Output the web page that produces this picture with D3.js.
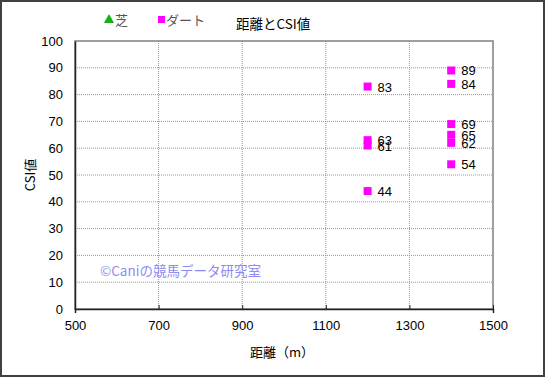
<!DOCTYPE html>
<html>
<head>
<meta charset="utf-8">
<script src="https://cdn.jsdelivr.net/npm/d3@7"></script>
<style>
  body { margin: 0; background: #fff; }
  text { font-family: "Liberation Sans", Arial, "Noto Sans CJK JP", sans-serif; }
</style>
</head>
<body>
<script>
// data
const dirtDist = [1200, 1200, 1200, 1200, 1400, 1400, 1400, 1400, 1400, 1400];
const dirtCsi  = [83, 63, 61, 44, 89, 84, 69, 65, 62, 54];
const turfDist = [];
const turfCsi  = [];
const xTicks = [500, 700, 900, 1100, 1300, 1500];
const yTicks = [0, 10, 20, 30, 40, 50, 60, 70, 80, 90, 100];

const W = 545, H = 377;
const plot = { left: 75, right: 493, top: 41, bottom: 309 };

const svg = d3.select("body").append("svg")
  .attr("width", W).attr("height", H);

// outer frame
svg.append("rect")
  .attr("x", 1).attr("y", 1).attr("width", W - 2).attr("height", H - 2)
  .attr("fill", "#fff").attr("stroke", "#404040").attr("stroke-width", 2);

const x = d3.scaleLinear().domain([500, 1500]).range([plot.left, plot.right]);
const y = d3.scaleLinear().domain([0, 100]).range([plot.bottom, plot.top]);

// grid
svg.append("g").selectAll("line")
  .data(xTicks.slice(1, -1))
  .join("line")
  .attr("x1", d => x(d)).attr("x2", d => x(d))
  .attr("y1", plot.top).attr("y2", plot.bottom)
  .attr("stroke", "#999").attr("stroke-dasharray", "1,1");

svg.append("g").selectAll("line")
  .data(yTicks.slice(1, -1))
  .join("line")
  .attr("x1", plot.left).attr("x2", plot.right)
  .attr("y1", d => y(d)).attr("y2", d => y(d))
  .attr("stroke", "#999").attr("stroke-dasharray", "1,1");

// plot border
svg.append("rect")
  .attr("x", plot.left).attr("y", plot.top)
  .attr("width", plot.right - plot.left).attr("height", plot.bottom - plot.top)
  .attr("fill", "none").attr("stroke", "#808080").attr("stroke-width", 1.5);

// axes
const xAxis = svg.append("g")
  .attr("transform", `translate(0,${plot.bottom})`)
  .call(d3.axisBottom(x).tickValues(xTicks).tickSize(4).tickPadding(8).tickFormat(d3.format("d")));
const yAxis = svg.append("g")
  .attr("transform", `translate(${plot.left},0)`)
  .call(d3.axisLeft(y).tickValues(yTicks).tickSize(0).tickPadding(12));
[xAxis, yAxis].forEach(a => {
  a.select(".domain").attr("stroke", "#222").attr("stroke-width", 1.5);
  a.selectAll(".tick line").attr("stroke", "#222");
  a.selectAll("text").attr("font-size", 13).attr("fill", "#000")
    .style("font-family", "'Liberation Sans', Arial, sans-serif");
});
xAxis.selectAll(".tick line").attr("transform", "translate(0,-4)");

// watermark
svg.append("text")
  .attr("x", 100).attr("y", 276)
  .attr("font-size", 13.5).attr("fill", "#8c8cf0")
  .style("font-family", "'Noto Sans CJK JP', sans-serif")
  .text("©Caniの競馬データ研究室");

// points
const pts = dirtDist.map((d, i) => ({ d, v: dirtCsi[i] }));
svg.append("g").selectAll("rect")
  .data(pts)
  .join("rect")
  .attr("x", p => x(p.d) - 4).attr("y", p => y(p.v) - 4)
  .attr("width", 8).attr("height", 8)
  .attr("fill", "#ff00ff");

svg.append("g").selectAll("text")
  .data(pts)
  .join("text")
  .attr("x", p => x(p.d) + 10).attr("y", p => y(p.v) + 5)
  .attr("font-size", 13).attr("fill", "#000")
  .text(p => p.v);

// title
svg.append("text")
  .attr("x", 236).attr("y", 29)
  .attr("font-size", 13.5).attr("fill", "#000")
  .style("font-family", "'Noto Sans CJK JP', sans-serif")
  .text("距離とCSI値");

// legend
const leg = svg.append("g");
leg.append("path")
  .attr("d", d3.symbol(d3.symbolTriangle, 36)())
  .attr("transform", "translate(109,20)")
  .attr("fill", "#00c000").attr("stroke", "#007000").attr("stroke-width", 0.5);
leg.append("text").attr("x", 115).attr("y", 25)
  .attr("font-size", 13).attr("fill", "#555")
  .style("font-family", "'Noto Sans CJK JP', sans-serif")
  .text("芝");
leg.append("rect").attr("x", 158).attr("y", 16).attr("width", 7).attr("height", 7)
  .attr("fill", "#ff00ff");
leg.append("text").attr("x", 166).attr("y", 25)
  .attr("font-size", 13).attr("fill", "#555")
  .style("font-family", "'Noto Sans CJK JP', sans-serif")
  .text("ダート");

// axis titles
svg.append("text")
  .attr("transform", `translate(35,${(plot.top + plot.bottom) / 2}) rotate(-90)`)
  .attr("text-anchor", "middle")
  .attr("font-size", 13).attr("fill", "#000")
  .style("font-family", "'Noto Sans CJK JP', sans-serif")
  .text("CSI値");
svg.append("text")
  .attr("x", 282).attr("y", 357)
  .attr("text-anchor", "middle")
  .attr("font-size", 13).attr("fill", "#000")
  .style("font-family", "'Noto Sans CJK JP', sans-serif")
  .text("距離（m）");
</script>
</body>
</html>
